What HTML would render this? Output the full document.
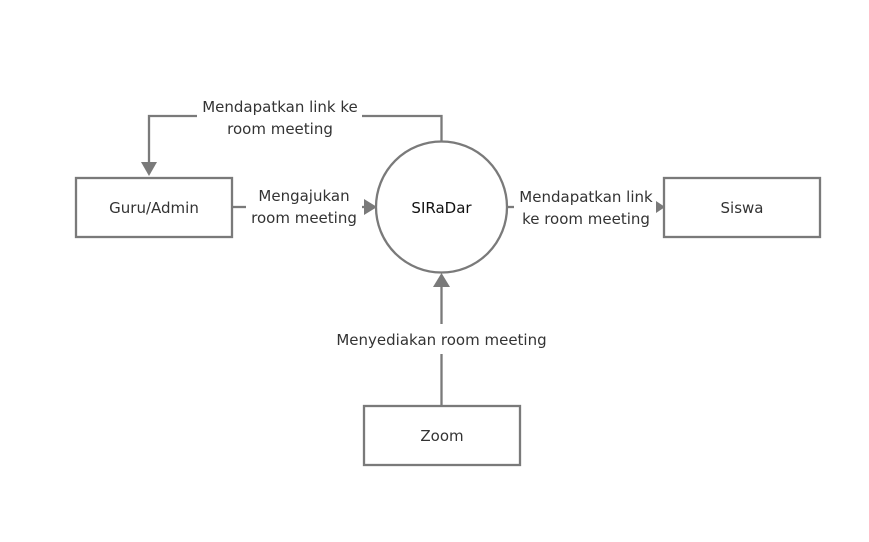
<!DOCTYPE html>
<html><head><style>
html,body{margin:0;padding:0;background:#fff;}
svg{display:block;}
text{font-family:"DejaVu Sans","Liberation Sans",sans-serif;font-size:15px;fill:#333;}
</style></head><body>
<svg width="869" height="542" viewBox="0 0 869 542" xmlns="http://www.w3.org/2000/svg">
<g stroke="#7a7a7a" stroke-width="2.3" fill="none">
<rect x="76" y="178" width="156" height="59"/>
<rect x="664" y="178" width="156" height="59"/>
<rect x="364" y="406" width="156" height="59"/>
<circle cx="441.5" cy="207" r="65.5"/>
<polyline points="441.5,141 441.5,116 362,116"/>
<polyline points="197,116 149,116 149,162"/>
<line x1="232" y1="207" x2="246" y2="207"/>
<line x1="362" y1="207" x2="366" y2="207"/>
<line x1="507" y1="207" x2="514" y2="207"/>
<line x1="441.5" y1="285" x2="441.5" y2="324"/>
<line x1="441.5" y1="354" x2="441.5" y2="406"/>
</g>
<g fill="#7a7a7a">
<polygon points="141,162 157,162 149,176"/>
<polygon points="364,199 377,207 364,215"/>
<polygon points="656,201 665,207 656,213"/>
<polygon points="433,287 450,287 441.5,273"/>
</g>
<text x="154" y="213" text-anchor="middle">Guru/Admin</text>
<text x="742" y="213" text-anchor="middle">Siswa</text>
<text x="442" y="441" text-anchor="middle">Zoom</text>
<text x="441.5" y="213" text-anchor="middle" style="fill:#111">SIRaDar</text>
<text x="280" y="112" text-anchor="middle">Mendapatkan link ke</text>
<text x="280" y="134" text-anchor="middle">room meeting</text>
<text x="304" y="201" text-anchor="middle">Mengajukan</text>
<text x="304" y="223" text-anchor="middle">room meeting</text>
<text x="586" y="202" text-anchor="middle">Mendapatkan link</text>
<text x="586" y="224" text-anchor="middle">ke room meeting</text>
<text x="441.5" y="345" text-anchor="middle">Menyediakan room meeting</text>
</svg>
</body></html>
